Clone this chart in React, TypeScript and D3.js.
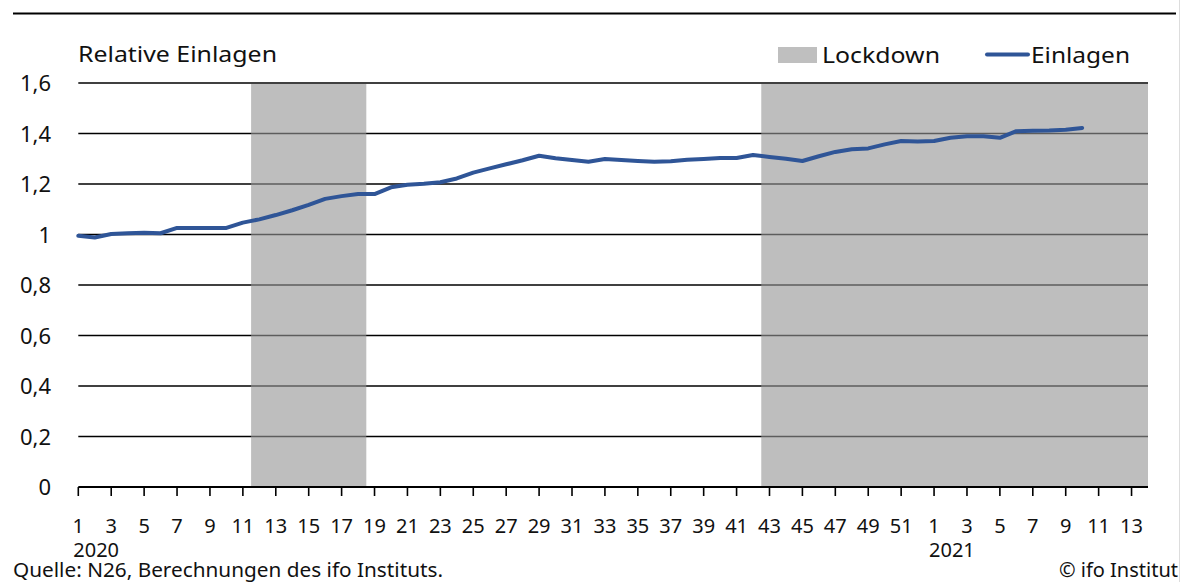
import React from "react";
import * as d3 from "d3";

// ---- data ----
const weeks2020: number[] = d3.range(1, 53);
const weeks2021: number[] = d3.range(1, 15);
const categories: string[] = [...weeks2020.map(String), ...weeks2021.map(String)];

// Einlagen (relative deposits), 2020 W1..W52 then 2021 W1..W10
const einlagen: number[] = [
  0.995, 0.988, 1.002, 1.005, 1.007, 1.005, 1.026, 1.026, 1.026, 1.026,
  1.047, 1.06, 1.077, 1.096, 1.117, 1.141, 1.152, 1.16, 1.16, 1.187,
  1.197, 1.201, 1.207, 1.222, 1.245, 1.262, 1.278, 1.294, 1.312, 1.302,
  1.295, 1.288, 1.299, 1.295, 1.291, 1.288, 1.29, 1.296, 1.299, 1.303,
  1.303, 1.315, 1.307, 1.3, 1.291, 1.31, 1.327, 1.338, 1.341, 1.357,
  1.37, 1.368,
  1.37, 1.383, 1.389, 1.389, 1.383, 1.409, 1.411, 1.412, 1.415, 1.422,
];

// Lockdown periods (category index ranges, inclusive)
const lockdowns: [number, number][] = [
  [11, 17],
  [42, 65],
];

const yTicks: number[] = [0, 0.2, 0.4, 0.6, 0.8, 1, 1.2, 1.4, 1.6];
const yearLabels: { year: string; index: number }[] = [
  { year: "2020", index: 0 },
  { year: "2021", index: 52 },
];

const FONT = "'Noto Sans', 'Open Sans', sans-serif";

export default function App() {
  const W = 1184;
  const H = 582;
  const x = d3.scaleLinear().domain([0, categories.length - 1]).range([78.3, 1148]);
  const y = d3.scaleLinear().domain([0, 1.6]).range([487, 83]);
  const x0 = x(0);
  const x1 = x(categories.length - 1);

  const line = d3
    .line<number>()
    .x((_, i) => x(i))
    .y((d) => y(d));

  const fmt = (v: number) => String(+v.toFixed(1)).replace(".", ",");

  const tickIdx = categories.map((_, i) => i).filter((i) => i % 2 === 0);

  return (
    <svg
      width={W}
      height={H}
      style={{ position: "absolute", left: 0, top: 0, background: "#fff" }}
      fontFamily={FONT}
    >
      {/* top rule */}
      <line x1={13} x2={1176} y1={13.5} y2={13.5} stroke="#000" strokeWidth={2.2} />
      <line x1={1179.5} x2={1179.5} y1={0} y2={582} stroke="#ddd" strokeWidth={1} />

      {/* title */}
      <text x={78} y={62} fontSize={22} fill="#111" textLength={199} lengthAdjust="spacingAndGlyphs">
        Relative Einlagen
      </text>

      {/* legend */}
      <rect x={778} y={47} width={39} height={16} fill="#bfbfbf" />
      <text x={822} y={63} fontSize={22} fill="#111" textLength={118} lengthAdjust="spacingAndGlyphs">
        Lockdown
      </text>
      <line x1={987} x2={1028} y1={54.5} y2={54.5} stroke="#2f5597" strokeWidth={4} strokeLinecap="round" />
      <text x={1031} y={63} fontSize={22} fill="#111" textLength={99} lengthAdjust="spacingAndGlyphs">
        Einlagen
      </text>

      {/* gridlines (under band) */}
      {yTicks
        .filter((t) => t > 0 && t < 1.6)
        .map((t) => (
          <line key={t} x1={x0} x2={x1} y1={y(t)} y2={y(t)} stroke="#000" strokeWidth={1.6} />
        ))}

      {/* lockdown bands */}
      {lockdowns.map(([a, b], i) => {
        const l = Math.max(x0, x(a - 0.5));
        const r = Math.min(x1, x(b + 0.5));
        return (
          <rect
            key={i}
            x={l}
            y={y(1.6) + 1}
            width={r - l}
            height={y(0) - y(1.6) - 1}
            fill="rgb(150,150,150)"
            fillOpacity={0.62}
          />
        );
      })}

      {/* top gridline */}
      <line x1={x0} x2={x1} y1={y(1.6)} y2={y(1.6)} stroke="#000" strokeWidth={1.6} />

      {/* y labels */}
      {yTicks.map((t) => (
        <text key={t} x={51} y={y(t) + 8} fontSize={22} textAnchor="end" fill="#111">
          {fmt(t)}
        </text>
      ))}

      {/* x axis */}
      <line x1={x0} x2={x1} y1={y(0)} y2={y(0)} stroke="#000" strokeWidth={1.8} />
      {tickIdx.map((i) => (
        <g key={i}>
          <line x1={x(i)} x2={x(i)} y1={y(0)} y2={y(0) + 9} stroke="#000" strokeWidth={1.6} />
          <text x={x(i)} y={533} fontSize={20} textAnchor="middle" fill="#111">
            {categories[i]}
          </text>
        </g>
      ))}
      {yearLabels.map((yl) => (
        <text key={yl.year} x={x(yl.index) - 5} y={557} fontSize={20} fill="#111">
          {yl.year}
        </text>
      ))}

      {/* series line */}
      <path
        d={line(einlagen) || ""}
        fill="none"
        stroke="#2f5597"
        strokeWidth={4}
        strokeLinejoin="round"
        strokeLinecap="round"
      />

      {/* footer */}
      <text x={13} y={577} fontSize={20} fill="#111" textLength={430} lengthAdjust="spacingAndGlyphs">
        Quelle: N26, Berechnungen des ifo Instituts.
      </text>
      <text x={1178} y={577} fontSize={20} textAnchor="end" fill="#111">
        © ifo Institut
      </text>
    </svg>
  );
}
